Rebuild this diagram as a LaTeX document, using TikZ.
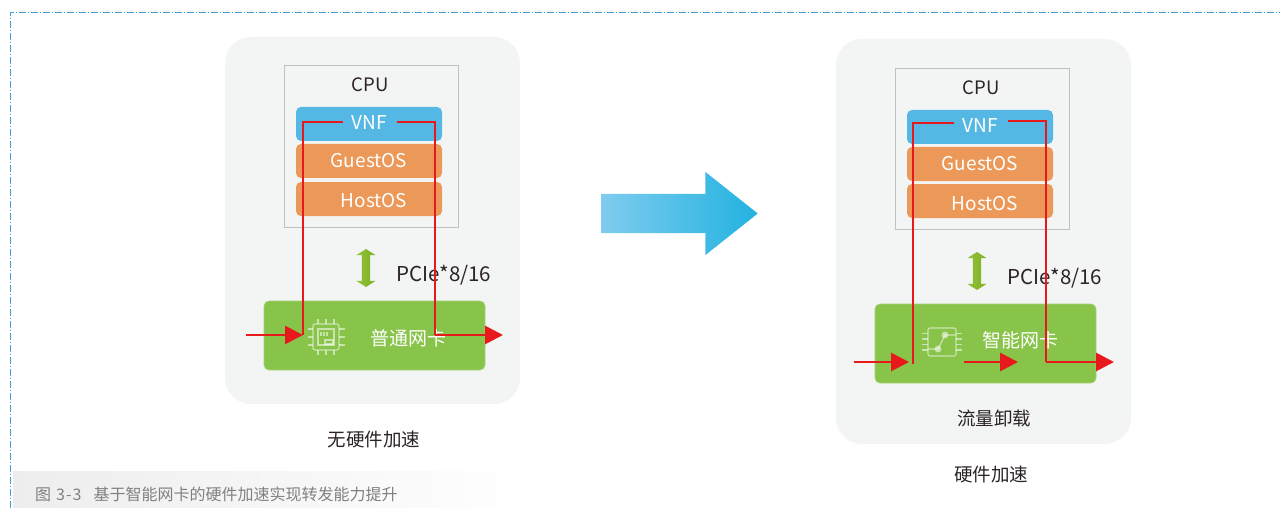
\documentclass[tikz,border=0pt]{standalone}
\usepackage{fontspec}
\setmainfont{Noto Sans CJK SC}
\usetikzlibrary{arrows.meta,shapes.arrows}

\definecolor{panelgray}{HTML}{F3F5F5}
\definecolor{boxgray}{HTML}{BFC1C1}
\definecolor{vnfblue}{HTML}{55B7E3}
\definecolor{osorange}{HTML}{EC9859}
\definecolor{nicgreen}{HTML}{88C34A}
\definecolor{flowred}{HTML}{E8191C}
\definecolor{framedash}{HTML}{4A9FCF}
\definecolor{textdark}{HTML}{2B2326}
\definecolor{pcielight}{HTML}{92C13A}
\definecolor{pciedark}{HTML}{7DB125}
\definecolor{arrowlight}{HTML}{7FCCEE}
\definecolor{arrowmid}{HTML}{3DBAE3}
\definecolor{arrowdark}{HTML}{22B2E0}

\tikzset{
    panel/.style={fill=panelgray, rounded corners=26pt, inner sep=0},
    cpubox/.style={draw=boxgray, line width=1pt, fill=panelgray, inner sep=0,
    minimum width=174pt, minimum height=161pt},
    layer/.style={rounded corners=5pt, inner sep=0, minimum width=146pt, minimum height=34pt},
    nic/.style={fill=nicgreen, draw=nicgreen!75!white, line width=0.7pt, rounded corners=5pt, inner sep=0},
    lbl/.style={text=textdark, font=\fontsize{18.5}{20}\selectfont, inner sep=0},
    wlbl/.style={text=white, font=\fontsize{19}{20}\selectfont, inner sep=0},
    pcielbl/.style={text=textdark, font=\fontsize{20.5}{22}\selectfont, inner sep=0},
    pciearrow/.style={double arrow, shape border rotate=90, inner sep=4pt,
    minimum height=38pt, minimum width=19pt, double arrow head extend=5.5pt,
    double arrow tip angle=115, left color=pcielight, right color=pciedark},
    flow/.style={draw=flowred, line width=2.8pt},
    thinflow/.style={draw=flowred, line width=1.8pt},
    flowarrow/.style={draw=flowred, line width=2.8pt, -{Triangle[length=18pt, width=18pt]}},
    icon/.style={draw=white, draw opacity=0.55, line width=1.2pt}
}

\begin{document}
\begin{tikzpicture}[x=1pt, y=-1pt]
    \useasboundingbox (0, 0) rectangle (1280, 508);

    % Frame and caption
    \fill[left color=black!7, middle color=black!6, right color=white] (13, 471) rectangle (540, 508);
    \coordinate (frameTop) at (1280, 13);
    \coordinate (frameBottom) at (10, 508);
    \draw[framedash, line width=1pt, dash pattern=on 7pt off 2pt on 1pt off 2pt] (frameBottom) |- (frameTop);
    \node[anchor=west, inner sep=0, text=black!50, font=\fontsize{16}{17}\selectfont] (caption) at (35, 494)
    {图\hspace{5pt}3\hspace{1pt}-\hspace{1pt}3\hspace{12pt}基于智能网卡的硬件加速实现转发能力提升};

    % Left panel
    \node[panel, minimum width=295pt, minimum height=367pt] (panelA) at (372.5, 220.5) {};
    \node[cpubox] (cpuA) at (371, 146.5) {};
    \node[lbl] (cpuTextA) at (370, 85) {CPU};
    \node[layer, fill=vnfblue] (vnfA) at (369, 124) {};
    \node[layer, fill=osorange] (guestA) at (369, 161) {};
    \node[layer, fill=osorange] (hostA) at (369, 199) {};
    \node[wlbl] (vnfTextA) at (369, 123) {VNF};
    \node[wlbl] (guestTextA) at (369, 161) {GuestOS};
    \node[wlbl] (hostTextA) at (374, 201) {HostOS};
    \node[pciearrow] (pcieA) at (366, 268) {};
    \node[pcielbl] (pcieTextA) at (444, 275) {PCIe*8/16};
    \node[nic, minimum width=221pt, minimum height=69pt] (nicA) at (374.5, 335.5) {};
    \node[wlbl] (nicTextA) at (408, 338) {普通网卡};
    \node[lbl] (titleA) at (374, 439) {无硬件加速};

    % Chip icon
    \draw[icon, rounded corners=2pt] (313, 324) rectangle (339, 350);
    \draw[icon] (318, 329) rectangle (334, 345);
    \draw[icon] (325, 340) rectangle (333, 344);
    \foreach \i in {0, 8, 16} {
        \draw[icon] (318 + \i, 319) -- (318 + \i, 324);
        \draw[icon] (318 + \i, 350) -- (318 + \i, 355);
        \draw[icon] (308, 329 + \i) -- (313, 329 + \i);
        \draw[icon] (339, 329 + \i) -- (345, 329 + \i);
    }
    \foreach \i in {0, 3, 6} {
        \draw[icon] (321 + \i, 332) -- (321 + \i, 336);
    }

    % Big arrow
    \node[single arrow, anchor=tip, inner sep=19.5pt, minimum height=156pt, minimum width=83pt,
    single arrow head extend=22pt, single arrow tip angle=77,
    left color=arrowlight, middle color=arrowmid, right color=arrowdark] (bigArrow) at (758, 213.5) {};

    % Right panel
    \node[panel, minimum width=295pt, minimum height=405pt] (panelB) at (983.5, 241.5) {};
    \node[cpubox] (cpuB) at (982, 149) {};
    \node[lbl] (cpuTextB) at (981, 88) {CPU};
    \node[layer, fill=vnfblue] (vnfB) at (980, 127) {};
    \node[layer, fill=osorange] (guestB) at (980, 164) {};
    \node[layer, fill=osorange] (hostB) at (980, 201) {};
    \node[wlbl] (vnfTextB) at (980, 126) {VNF};
    \node[wlbl] (guestTextB) at (980, 164) {GuestOS};
    \node[wlbl] (hostTextB) at (985, 204) {HostOS};
    \node[pciearrow] (pcieB) at (977, 271) {};
    \node[pcielbl] (pcieTextB) at (1055, 278) {PCIe*8/16};
    \node[nic, minimum width=221pt, minimum height=79pt] (nicB) at (985.5, 343.5) {};
    \node[wlbl] (nicTextB) at (1020, 340) {智能网卡};
    \node[lbl] (offloadText) at (994, 418) {流量卸载};
    \node[lbl] (titleB) at (991, 474) {硬件加速};

    % Switch icon
    \draw[icon, rounded corners=2pt] (928, 328) rectangle (956, 356);
    \foreach \i in {0, 5.5, 11, 16.5} {
        \draw[icon] (922, 333.5 + \i) -- (928, 333.5 + \i);
        \draw[icon] (956, 333.5 + \i) -- (962, 333.5 + \i);
    }
    \draw[icon] (928, 349) -- (938, 349) -- (945, 335) -- (956, 335);
    \fill[white, opacity=0.55] (938, 349) circle (3.5);
    \fill[white, opacity=0.55] (945, 335) circle (3.5);

    % Flows, left
    \coordinate (inA) at (246, 335);
    \coordinate (upA) at (303, 335);
    \coordinate (vnfLeftA) at (343, 122);
    \coordinate (vnfRightA) at (397, 122);
    \coordinate (downA) at (435, 335);
    \coordinate (outA) at (503, 335);
    \draw[flow] (upA) |- (vnfLeftA);
    \draw[flow] (vnfRightA) -| (downA);
    \draw[flowarrow] (inA) -- (upA);
    \draw[flowarrow] (downA) -- (outA);

    % Flows, right
    \coordinate (inB) at (854, 362);
    \coordinate (inEndB) at (909, 362);
    \coordinate (upB) at (913, 364);
    \coordinate (vnfLeftB) at (954, 122.7);
    \coordinate (vnfRightB) at (1008, 120.7);
    \coordinate (downB) at (1046, 362);
    \coordinate (outB) at (1114, 362);
    \coordinate (midStart) at (964, 362);
    \coordinate (midEnd) at (1018, 362);
    \draw[thinflow] (upB) |- (vnfLeftB);
    \draw[thinflow] (vnfRightB) -| (downB);
    \draw[flowarrow] (inB) -- (inEndB);
    \draw[flowarrow] (midStart) -- (midEnd);
    \draw[flowarrow] (downB) -- (outB);

\end{tikzpicture}
\end{document}
